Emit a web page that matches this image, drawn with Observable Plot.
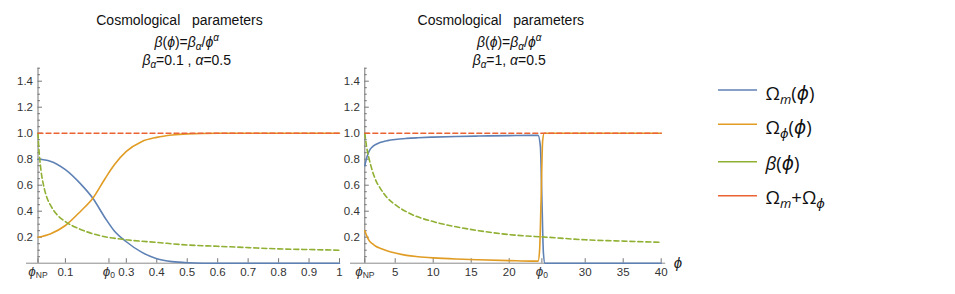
<!DOCTYPE html>
<html>
<head>
<meta charset="utf-8">
<script src="https://cdn.jsdelivr.net/npm/d3@7"></script>
<script src="https://cdn.jsdelivr.net/npm/@observablehq/plot@0.6"></script>
<style>
  body { margin: 0; background: #fff; }
  #wrap { position: relative; width: 955px; height: 294px; overflow: hidden; background: #fff; }
  #wrap > svg { position: absolute; left: 0; top: 0; }
</style>
</head>
<body>
<div id="wrap"></div>
<script>
// ---------- data ----------
// Left panel: beta_alpha = 0.1, alpha = 0.5
const leftPhiMP = [0.01, 0.05, 0.1, 0.15, 0.19, 0.23, 0.26, 0.3, 0.35, 0.4, 0.45, 0.5, 0.6, 0.8, 1];
const leftOmegaM = [0.80, 0.785, 0.72, 0.61, 0.50, 0.35, 0.25, 0.165, 0.085, 0.035, 0.012, 0.004, 0.0, 0.0, 0.0];
const leftOmegaPhi = [0.20, 0.225, 0.29, 0.40, 0.50, 0.65, 0.755, 0.86, 0.935, 0.968, 0.986, 0.995, 1.0, 1.0, 1.0];
const leftPhiBeta = [0.01, 0.012, 0.015, 0.02, 0.03, 0.04, 0.05, 0.07, 0.1, 0.15, 0.2, 0.3, 0.4, 0.5, 0.6, 0.7, 0.8, 0.9, 1];
const leftBeta = [1.0, 0.91, 0.82, 0.71, 0.58, 0.50, 0.45, 0.38, 0.32, 0.26, 0.22, 0.18, 0.16, 0.14, 0.13, 0.12, 0.11, 0.105, 0.10];
const leftPhiSum = [0.01, 1];
const leftSum = [1, 1];
const leftXTicks = [0.01, 0.1, 0.243, 0.3, 0.4, 0.5, 0.6, 0.7, 0.8, 0.9, 1];
const leftXTickLabels = ["ϕ_NP", "0.1", "ϕ_0", "0.3", "0.4", "0.5", "0.6", "0.7", "0.8", "0.9", "1"];

// Right panel: beta_alpha = 1, alpha = 0.5
const rightPhiM = [1, 1.3, 1.6, 2, 2.5, 3, 4, 5, 6.5, 8, 10, 13, 16, 20, 23, 23.8, 24.1, 24.3, 24.5, 24.7, 26, 30, 35, 40];
const rightOmegaM = [0.75, 0.82, 0.865, 0.895, 0.915, 0.928, 0.943, 0.952, 0.96, 0.965, 0.97, 0.975, 0.978, 0.981, 0.983, 0.983, 0.9, 0.5, 0.08, 0, 0, 0, 0, 0];
const rightPhiPhi = [1, 1.3, 1.6, 2, 2.5, 3, 4, 5, 6.5, 8, 10, 13, 16, 20, 23, 23.8, 24.0, 24.2, 24.4, 24.6, 26, 30, 35, 40];
const rightOmegaPhi = [0.25, 0.205, 0.172, 0.15, 0.128, 0.115, 0.094, 0.078, 0.06, 0.05, 0.041, 0.032, 0.026, 0.02, 0.016, 0.016, 0.1, 0.5, 0.94, 1, 1, 1, 1, 1];
const rightPhiBeta = [1, 1.2, 1.5, 2, 2.5, 3, 4, 5, 7, 10, 13, 16, 20, 25, 30, 35, 40];
const rightBeta = [1.0, 0.91, 0.82, 0.71, 0.63, 0.58, 0.50, 0.45, 0.38, 0.32, 0.28, 0.25, 0.22, 0.20, 0.18, 0.17, 0.16];
const rightPhiSum = [1, 40];
const rightSum = [1, 1];
const rightXTicks = [1, 5, 10, 15, 20, 24.3, 30, 35, 40];
const rightXTickLabels = ["ϕ_NP", "5", "10", "15", "20", "ϕ_0", "30", "35", "40"];

const yMajorTicks = [0.2, 0.4, 0.6, 0.8, 1.0, 1.2, 1.4];
const yMajorLabels = ["0.2", "0.4", "0.6", "0.8", "1.0", "1.2", "1.4"];
const yMinorTicks = [0.05, 0.1, 0.15, 0.25, 0.3, 0.35, 0.45, 0.5, 0.55, 0.65, 0.7, 0.75, 0.85, 0.9, 0.95, 1.05, 1.1, 1.15, 1.25, 1.3, 1.35, 1.45, 1.5];

const seriesNames = ["Ωm(ϕ)", "Ωϕ(ϕ)", "β(ϕ)", "Ωm+Ωϕ"];
const seriesColors = ["#5E81B5", "#E19C24", "#8FB032", "#EB6235"];

const leftTitle = ["Cosmological\u00a0\u00a0\u00a0parameters", "β(ϕ)=βα/ϕα", "βα=0.1 , α=0.5"];
const rightTitle = ["Cosmological\u00a0\u00a0\u00a0parameters", "β(ϕ)=βα/ϕα", "βα=1, α=0.5"];

// ---------- drawing ----------
const NS = "http://www.w3.org/2000/svg";
const FONT = "'Liberation Sans', Arial, Helvetica, sans-serif";
const axisGray = "#8a8a8a";

function panel(opts) {
  const {xDomain, mLeft, mRight, xTicks, xLabels, extL, extR, data} = opts;
  const fmt = new Map(xTicks.map((t, i) => [t, xLabels[i]]));
  const yfmt = new Map(yMajorTicks.map((t, i) => [t, yMajorLabels[i]]));
  const [m, p, b, s] = data;
  const svg = Plot.plot({
    width: 955, height: 294,
    marginLeft: mLeft, marginRight: mRight, marginTop: 67.7, marginBottom: 31.3,
    style: {background: "transparent", fontFamily: FONT, fontSize: "11.5px", color: "#333", overflow: "visible"},
    x: {domain: xDomain},
    y: {domain: [0, 1.5]},
    marks: [
      Plot.ruleY([0], {stroke: axisGray, strokeWidth: 1, insetLeft: extL, insetRight: extR}),
      Plot.ruleX([xDomain[0]], {stroke: "#777", strokeWidth: 1}),
      Plot.axisY(yMinorTicks, {tickSize: -2.5, tickFormat: () => "", stroke: "#777", label: null}),
      Plot.axisY(yMajorTicks, {tickSize: -4.5, tickFormat: () => "", stroke: "#777", label: null}),
      Plot.axisY(yMajorTicks, {tickSize: 0, tickPadding: 5, tickFormat: d => yfmt.get(d), fill: "#333", fontSize: 11.5, label: null}),
      Plot.axisX(xTicks, {tickSize: -4.5, tickFormat: () => "", stroke: "#777", label: null}),
      Plot.axisX(xTicks, {tickSize: 0, tickPadding: 5, tickFormat: d => fmt.get(d), fill: "#333", fontSize: 11.5, label: null}),
      Plot.line(m[1], {x: m[0], y: m[1], stroke: seriesColors[0], strokeWidth: 1.6, curve: "monotone-x"}),
      Plot.line(p[1], {x: p[0], y: p[1], stroke: seriesColors[1], strokeWidth: 1.6, curve: "monotone-x"}),
      Plot.line(b[1], {x: b[0], y: b[1], stroke: seriesColors[2], strokeWidth: 1.6, strokeDasharray: "5,3", curve: "monotone-x"}),
      Plot.line(s[1], {x: s[0], y: s[1], stroke: seriesColors[3], strokeWidth: 1.4, strokeDasharray: "5,3"})
    ]
  });
  // force tick-label font size
  svg.querySelectorAll('g[aria-label$="tick label"]').forEach(g => {
    g.setAttribute("font-size", "11.5");
    g.style.fontSize = "11.5px";
  });
  // subscripted tick labels (ϕ_NP, ϕ_0)
  svg.querySelectorAll("text").forEach(t => {
    const mm = /^ϕ_(.+)$/.exec(t.textContent);
    if (!mm) return;
    t.textContent = "";
    const a = document.createElementNS(NS, "tspan");
    a.setAttribute("font-style", "italic");
    a.style.fontSize = "13.5px";
    a.textContent = "ϕ";
    const c = document.createElementNS(NS, "tspan");
    c.style.fontSize = "8.5px";
    c.setAttribute("dy", "2");
    c.textContent = mm[1];
    t.append(a, c);
  });
  return svg;
}

const wrap = document.getElementById("wrap");
wrap.append(panel({
  xDomain: [0.01, 1], mLeft: 37.5, mRight: 955 - 339, xTicks: leftXTicks, xLabels: leftXTickLabels,
  extL: -11.5, extR: -1,
  data: [[leftPhiMP, leftOmegaM], [leftPhiMP, leftOmegaPhi], [leftPhiBeta, leftBeta], [leftPhiSum, leftSum]]
}));
wrap.append(panel({
  xDomain: [1, 40], mLeft: 364.3, mRight: 955 - 660.7, xTicks: rightXTicks, xLabels: rightXTickLabels,
  extL: -14.3, extR: -4.5,
  data: [[rightPhiM, rightOmegaM], [rightPhiPhi, rightOmegaPhi], [rightPhiBeta, rightBeta], [rightPhiSum, rightSum]]
}));

// ---------- overlay: titles, axis label, legend ----------
function el(name, attrs, parent) {
  const e = document.createElementNS(NS, name);
  for (const k in attrs) e.setAttribute(k, attrs[k]);
  if (parent) parent.append(e);
  return e;
}
function span(parent, txt, attrs) {
  const t = el("tspan", attrs || {}, parent);
  t.textContent = txt;
  return t;
}
const ov = el("svg", {width: 955, height: 294, viewBox: "0 0 955 294"});
ov.style.fontFamily = FONT;
wrap.append(ov);

function title(lines, c1, c2) {
  const t1 = el("text", {x: c1, y: 24.8, "text-anchor": "middle", "font-size": 14, fill: "#111"}, ov);
  t1.textContent = lines[0];
  // β(ϕ)=βα/ϕ^α
  const t2 = el("text", {x: c2, y: 46.5, "text-anchor": "middle", "font-size": 14, fill: "#111"}, ov);
  const s2 = lines[1];
  span(t2, s2[0], {"font-style": "italic"});
  span(t2, "(");
  span(t2, s2[2], {"font-style": "italic"});
  span(t2, ")=");
  span(t2, s2[5], {"font-style": "italic"});
  span(t2, s2[6], {"font-style": "italic", "font-size": 10, dy: 3});
  span(t2, "/", {dy: -3});
  span(t2, s2[8], {"font-style": "italic"});
  span(t2, s2[9], {"font-style": "italic", "font-size": 10, dy: -5.5});
  // βα=..., α=0.5
  const t3 = el("text", {x: c2, y: 64.5, "text-anchor": "middle", "font-size": 14, fill: "#111"}, ov);
  const s3 = lines[2];
  span(t3, s3[0], {"font-style": "italic"});
  span(t3, s3[1], {"font-style": "italic", "font-size": 10, dy: 3});
  const rest = s3.slice(2);
  const k = rest.indexOf("α");
  span(t3, rest.slice(0, k), {dy: -3});
  span(t3, "α", {"font-style": "italic"});
  span(t3, rest.slice(k + 1));
}
title(leftTitle, 179.5, 186.7);
title(rightTitle, 500.8, 509.2);

// x-axis label (right panel)
const xl = el("text", {x: 678, y: 268, "text-anchor": "middle", "font-size": 15, "font-style": "italic", fill: "#222"}, ov);
xl.textContent = "ϕ";

// legend
const legLines = [90, 124.3, 161.7, 195.7];
const legBase = [99.5, 133.5, 169.5, 204];
const LF = "'Open Sans', 'DejaVu Sans', sans-serif";
seriesNames.forEach((name, i) => {
  el("line", {x1: 718, x2: 757, y1: legLines[i], y2: legLines[i], stroke: seriesColors[i], "stroke-width": 1.6}, ov);
  const t = el("text", {x: 765.5, y: legBase[i], "font-size": 18.5, fill: "#111"}, ov);
  t.style.fontFamily = LF;
  if (i === 0) { span(t, "Ω"); span(t, "m", {"font-style": "italic", "font-size": 13, dy: 4}); span(t, "(", {dy: -4}); span(t, "ϕ", {"font-style": "italic"}); span(t, ")"); }
  if (i === 1) { span(t, "Ω"); span(t, "ϕ", {"font-style": "italic", "font-size": 13, dy: 4}); span(t, "(", {dy: -4}); span(t, "ϕ", {"font-style": "italic"}); span(t, ")"); }
  if (i === 2) { span(t, "β", {"font-style": "italic"}); span(t, "("); span(t, "ϕ", {"font-style": "italic"}); span(t, ")"); }
  if (i === 3) { span(t, "Ω"); span(t, "m", {"font-style": "italic", "font-size": 13, dy: 4}); span(t, "+", {dy: -4}); span(t, "Ω"); span(t, "ϕ", {"font-style": "italic", "font-size": 13, dy: 4}); }
});
</script>
</body>
</html>
